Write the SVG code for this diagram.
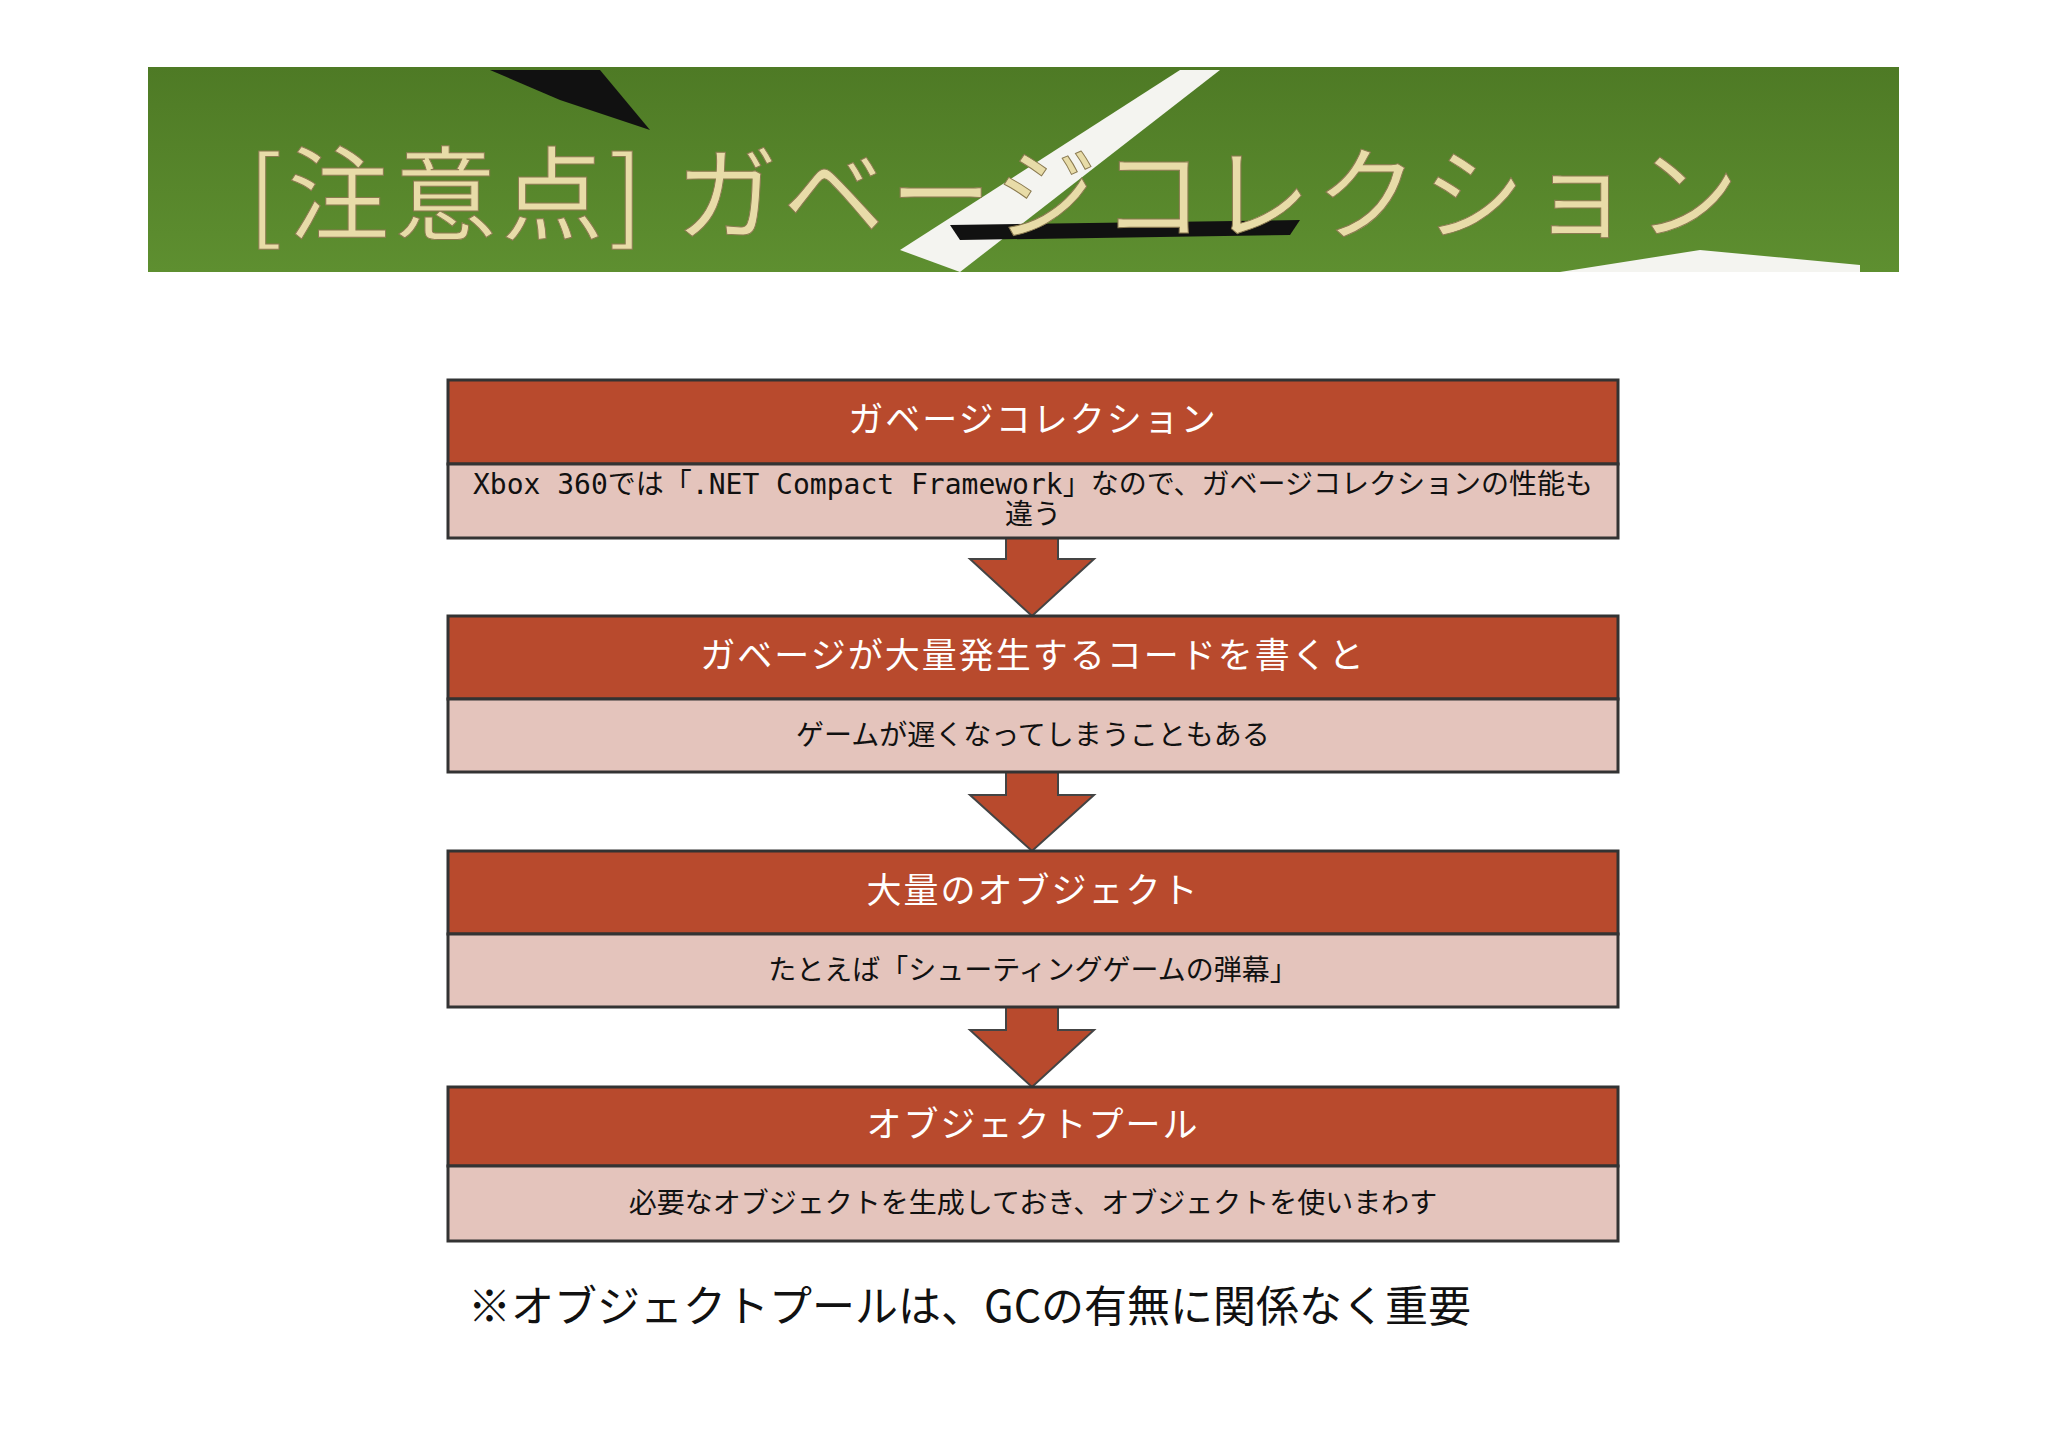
<svg xmlns="http://www.w3.org/2000/svg" width="2048" height="1448" viewBox="0 0 2048 1448">
<style>
.hd{fill:#b84a2d;stroke:#333;stroke-width:3}
.bd{fill:#e4c4bc;stroke:#333;stroke-width:3}
.ht{font-family:"Noto Sans CJK JP",sans-serif;font-size:35px;letter-spacing:2px;fill:#fff;text-anchor:middle}
.bt{font-family:"DejaVu Sans Mono","Noto Sans CJK JP",monospace;font-size:28px;fill:#111;text-anchor:middle}
.ar{fill:#b84a2d;stroke:#444;stroke-width:2}
</style>
<defs>
<linearGradient id="g" x1="0" y1="0" x2="0" y2="1"><stop offset="0" stop-color="#4e7a25"/><stop offset="1" stop-color="#5e8f30"/></linearGradient>
</defs>
<rect fill="#fff" width="2048" height="1448"/>
<g id="banner">
<rect x="148" y="67" width="1751" height="205" fill="url(#g)"/>
<path d="M490 70 L600 70 L650 130 L560 100 Z" fill="#111"/>
<path d="M900 250 L1180 70 L1220 70 L960 272 Z" fill="#f4f4f0"/>
<path d="M950 225 L1300 220 L1290 235 L960 240 Z" fill="#111"/>
<path d="M1560 272 L1700 250 L1860 265 L1860 272 Z" fill="#f4f4f0"/>
<text x="248" y="232" font-family="Noto Sans CJK JP,sans-serif" font-size="102" letter-spacing="5" fill="#e8dca8" stroke="#8a7a50" stroke-width="1">[注意点] ガベージコレクション</text>
</g>
<g id="connectors">
<path class="ar" d="M1006 538 H1058 V559 H1094 L1032 616 L970 559 H1006 Z"/>
<path class="ar" d="M1006 772 H1058 V795 H1094 L1032 851 L970 795 H1006 Z"/>
<path class="ar" d="M1006 1007 H1058 V1030 H1094 L1032 1087 L970 1030 H1006 Z"/>
</g>
<g id="n1"><rect class="hd" x="448" y="380" width="1170" height="84"/><rect class="bd" x="448" y="464" width="1170" height="74"/>
<text class="ht" x="1033" y="432">ガベージコレクション</text>
<text class="bt" x="1033" y="494">Xbox 360では「.NET Compact Framework」なので、ガベージコレクションの性能も</text>
<text class="bt" x="1033" y="524">違う</text></g>
<g id="n2"><rect class="hd" x="448" y="616" width="1170" height="83"/><rect class="bd" x="448" y="699" width="1170" height="73"/>
<text class="ht" x="1033" y="668">ガベージが大量発生するコードを書くと</text>
<text class="bt" x="1033" y="745">ゲームが遅くなってしまうこともある</text></g>
<g id="n3"><rect class="hd" x="448" y="851" width="1170" height="83"/><rect class="bd" x="448" y="934" width="1170" height="73"/>
<text class="ht" x="1033" y="903">大量のオブジェクト</text>
<text class="bt" x="1033" y="980">たとえば「シューティングゲームの弾幕」</text></g>
<g id="n4"><rect class="hd" x="448" y="1087" width="1170" height="79"/><rect class="bd" x="448" y="1166" width="1170" height="75"/>
<text class="ht" x="1033" y="1137">オブジェクトプール</text>
<text class="bt" x="1033" y="1213">必要なオブジェクトを生成しておき、オブジェクトを使いまわす</text></g>
<text x="468" y="1322" font-family="Noto Sans CJK JP,sans-serif" font-size="43" fill="#111">※オブジェクトプールは、GCの有無に関係なく重要</text>
</svg>
